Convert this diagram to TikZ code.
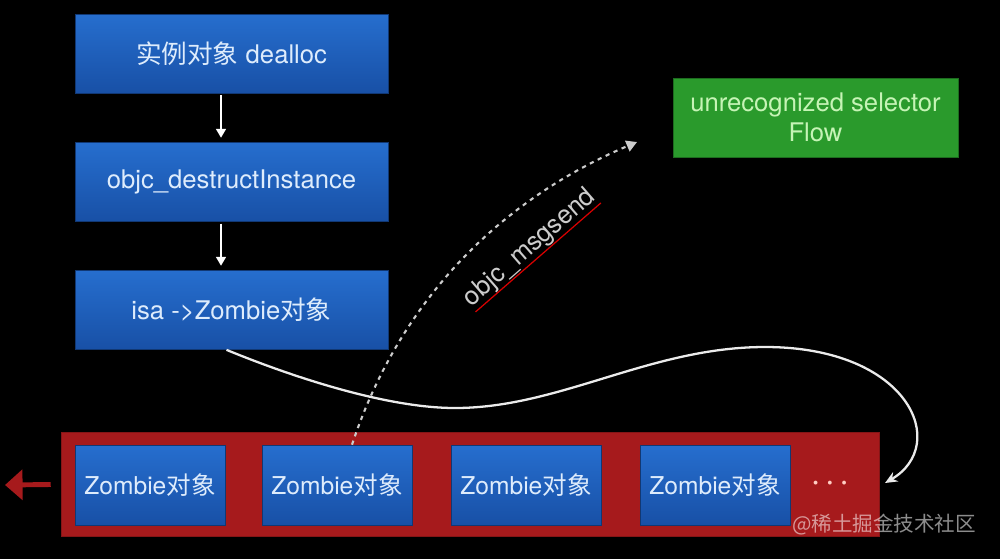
\documentclass[tikz,border=0pt]{standalone}
\usepackage{fontspec}
\setmainfont{TeX Gyre Heros}
\newfontfamily\cjk{Noto Sans CJK SC}
\usepackage{tikz}
\usetikzlibrary{arrows.meta}

\definecolor{boxblue}{RGB}{38,110,206}
\definecolor{boxbluedk}{RGB}{24,80,166}
\definecolor{boxgreen}{RGB}{42,154,44}
\definecolor{bandred}{RGB}{166,26,28}
\definecolor{lbltext}{RGB}{222,236,252}
\definecolor{lblgreen}{RGB}{198,244,182}
\definecolor{dotpink}{RGB}{255,205,195}

\tikzset{
  stepbox/.style={draw=boxbluedk!70!black, line width=.4pt, top color=boxblue,
    bottom color=boxbluedk, text=lbltext, inner sep=0pt,
    minimum width=6.26cm, minimum height=1.58cm,
    font=\fontsize{14.6}{17}\selectfont},
  zbox/.style={stepbox, minimum width=3cm, minimum height=1.6cm,
    font=\fontsize{14}{17}\selectfont},
  flowbox/.style={fill=boxgreen, draw=boxgreen!70!black, text=lblgreen,
    minimum width=5.7cm, minimum height=1.58cm, align=center, inner sep=0pt,
    font=\fontsize{14.6}{17}\selectfont},
  band/.style={fill=bandred, draw=bandred!80!black, minimum width=16.36cm,
    minimum height=2.08cm},
  down/.style={white, line width=1.1pt, -{Triangle[length=5pt,width=5.5pt]},
    shorten <=1pt, shorten >=2.5pt},
  wire/.style={white!92!black, line width=1.3pt, -{Stealth[length=7pt,width=6pt]}},
  fwdpath/.style={white!80!black, line width=1.2pt, dash pattern=on 2.4pt off 2.6pt,
    -{Triangle[length=6pt,width=6.5pt]}}
}

\begin{document}
\begin{tikzpicture}[x=0.02cm,y=-0.02cm]
  \useasboundingbox (0,0) rectangle (1000,559);
  \fill[black] (0,0) rectangle (1000,559);

  % left column
  \node[stepbox] (dealloc) at (231.5,53.5) {{\cjk 实例对象} dealloc};
  \node[stepbox] (destruct) at (231.5,182) {objc\_destructInstance};
  \node[stepbox] (isa) at (231.5,310) {isa ->Zombie{\cjk 对象}};
  \draw[down] ([xshift=-0.21cm]dealloc.south) -- ([xshift=-0.21cm]destruct.north);
  \draw[down] ([xshift=-0.21cm]destruct.south) -- ([xshift=-0.21cm]isa.north);

  \node[flowbox] (flow) at (815.5,117.5) {unrecognized selector\\Flow};

  % zombie pool
  \node[band] (band) at (470,484.5) {};
  \foreach \n/\x in {1/150,2/337,3/526,4/715}
    {\node[zbox] (z\n) at (\x,485) {Zombie{\cjk 对象}};}
  \node[text=dotpink, font=\fontsize{14.6}{17}\selectfont\bfseries] (more) at (830,485) {· · ·};

  \coordinate (out) at (5,485);
  \draw[bandred, line width=2.8pt, -{Triangle[length=10pt,width=17pt]}]
    ([xshift=-0.2cm]band.west) -- (out);

  % isa -> pool
  \coordinate (tail) at (885,483);
  \draw[wire] ([xshift=-0.1cm]isa.south) .. controls (300,380) and (390,408) .. (455,408)
    .. controls (560,408) and (650,347) .. (765,347)
    .. controls (910,347) and (950,445) .. (tail);

  % message send
  \coordinate (fwd) at (637,142);
  \draw[fwdpath] ([xshift=0.3cm]z2.north) .. controls (400,300) and (500,200) .. (fwd);
  \node[rotate=41, inner sep=0pt, text=white!80!black,
    font=\fontsize{14.6}{17}\selectfont] (msg) at (530,248) {objc\_msgsend};
  \draw[red!85!black, line width=.7pt] (msg.south west) -- (msg.south east);

  \node[text=white, text opacity=.55, font=\cjk\fontsize{11.7}{14}\selectfont]
    (mark) at (884,525) {@稀土掘金技术社区};
\end{tikzpicture}
\end{document}
